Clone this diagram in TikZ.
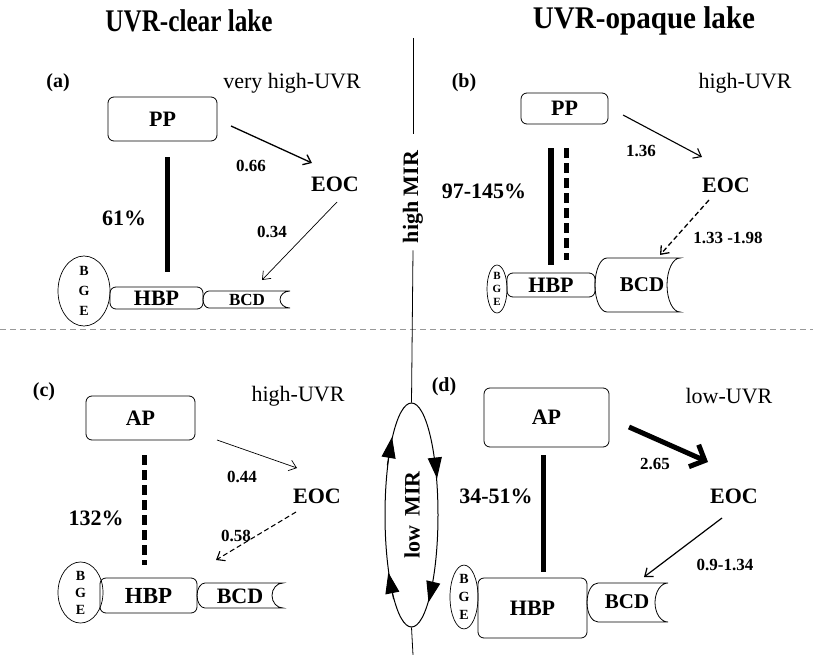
\documentclass[tikz,border=0pt]{standalone}
\usepackage{fontspec}
\setmainfont{Liberation Serif}
\usetikzlibrary{arrows.meta,shapes.geometric,calc}
\newcommand\fs[1]{\fontsize{#1}{#1}\selectfont}
\newcommand\bcdshape[6]{%
  \draw[bcdline] (#1,#3) -- (#2,#3)
    arc[start angle=270,end angle=90,x radius=#6,y radius={(#4-#3)/2}]
    -- (#1,#4)
    arc[start angle=90,end angle=270,x radius=#5,y radius={(#4-#3)/2}]
    -- cycle;}
\tikzset{
  box/.style={draw, rounded corners=6pt, line width=0.8pt, inner sep=0pt, font=\bfseries\fs{22}},
  bge/.style={draw, ellipse, line width=0.7pt, inner sep=0pt, align=center},
  bcdline/.style={line width=0.8pt},
  bcdtxt/.style={font=\bfseries\fs{21}, inner sep=0pt},
  eoc/.style={font=\bfseries\fs{22}, inner sep=0pt},
  num/.style={font=\bfseries\fs{17}, inner sep=0pt},
  pct/.style={font=\bfseries\fs{22}, inner sep=0pt},
  panel/.style={font=\bfseries\fs{20}, inner sep=0pt},
  uvr/.style={font=\fs{22}, inner sep=0pt},
  title/.style={font=\bfseries\fontsize{30}{30}\selectfont, inner sep=0pt},
  thickln/.style={line width=5pt},
  thickdash/.style={line width=5pt, dash pattern=on 10pt off 5pt},
  arr/.style={-{Straight Barb[length=7pt,width=11pt]}},
}
\begin{document}
\begin{tikzpicture}[x=1pt,y=-1pt]
\useasboundingbox (0,0) rectangle (813,655);
% titles
\node[title] (t1) at (189,21) {\scalebox{0.84}[1.05]{UVR-clear lake}};
\node[title] (t2) at (644,21) {\scalebox{0.97}[1.05]{UVR-opaque lake}};
% separators
\coordinate (vtop) at (413,38);
\coordinate (vbot) at (413,655);
\coordinate (hl) at (0,329);
\coordinate (hr) at (813,329);
\draw[gray!80, line width=0.8pt, dash pattern=on 6pt off 4pt] (hl) -- (hr);
\node[font=\bfseries\fs{22}, rotate=90, inner sep=0pt] (hmir) at (413,197) {high MIR};
\node[draw, ellipse, line width=1pt, inner sep=0pt, minimum width=53pt, minimum height=224pt] (mir) at (411.5,515) {};
\node[font=\bfseries\fs{22}, rotate=90, inner sep=0pt] (lmir) at (412,515) {low\hspace{9pt}MIR};
\draw[line width=0.8pt] (vtop) -- ([yshift=17pt]hmir.east);
\draw[line width=0.8pt] ([yshift=-7pt]hmir.west) -- (mir.north);
\draw[line width=0.8pt] (mir.south) -- (vbot);
\tikzset{mirarr/.style={line width=1pt,-{Triangle[length=21pt,width=14pt]}}}
\draw[mirarr] (mir.116) -- (mir.104.7);
\draw[mirarr] (mir.258) -- (mir.248.6);
\draw[mirarr] (mir.67) -- (mir.55.9);
\draw[mirarr] (mir.287) -- (mir.281.5);

% ---------------- panel (a)
\node[panel] (la) at (58,83) {(a)};
\node[uvr] (ua) at (292,83) {very high-UVR};
\node[box, minimum width=109pt, minimum height=44pt] (ppA) at (162.5,119) {PP};
\node[box, minimum width=93pt, minimum height=22pt] (hbpA) at (156.5,298) {HBP};
\node[bge, minimum width=52pt, minimum height=70pt, font=\bfseries\fs{14}] (bgeA) at (84,291) {B\\[6pt]G\\[6pt]E};
\bcdshape{209}{290}{291}{308}{6}{10}
\node[bcdtxt, font=\bfseries\fs{17}] (bcdA) at (247,300) {BCD};
\node[eoc] (eocA) at (335,184) {EOC};
\node[num] (n066) at (251,166) {0.66};
\node[num] (n034) at (272,232) {0.34};
\node[pct] (p61) at (124,218) {61\%};
\draw[thickln] ([xshift=4.5pt,yshift=-16pt]ppA.south) -- ([xshift=10.5pt,yshift=15pt]hbpA.north);
\coordinate (a1s) at (231,126); \coordinate (a1e) at (312,163);
\coordinate (a2s) at (337,202); \coordinate (a2e) at (262,280);
\draw[arr, line width=1.3pt] (a1s) -- (a1e);
\draw[arr, line width=0.7pt] (a2s) -- (a2e);

% ---------------- panel (b)
\node[panel] (lb) at (464,83) {(b)};
\node[uvr] (ub) at (745,83) {high-UVR};
\node[box, minimum width=87pt, minimum height=31pt] (ppB) at (564.5,108.5) {PP};
\node[box, minimum width=88pt, minimum height=24pt] (hbpB) at (551,285) {HBP};
\node[bge, minimum width=20pt, minimum height=48pt, font=\bfseries\fontsize{11}{13}\selectfont] (bgeB) at (497,289) {B\\G\\E};
\bcdshape{607}{680}{258}{312}{12}{13}
\node[bcdtxt] (bcdB) at (642,285) {BCD};
\node[eoc] (eocB) at (726,185) {EOC};
\node[num] (n136) at (641,151) {1.36};
\node[num] (n133) at (728,238) {1.33 -1.98};
\node[pct] (p97) at (484,191) {97-145\%};
\draw[thickln, line width=6pt] ([xshift=-13.5pt,yshift=-24pt]ppB.south) -- ([yshift=8pt]hbpB.north);
\draw[thickdash] ([xshift=1.5pt,yshift=-24pt]ppB.south) -- ([xshift=15pt,yshift=13pt]hbpB.north);
\coordinate (b1s) at (623,115); \coordinate (b1e) at (702,157);
\coordinate (b2s) at (709,200); \coordinate (b2e) at (660,255);
\draw[arr, line width=1.1pt] (b1s) -- (b1e);
\draw[arr, line width=1.3pt, dash pattern=on 5pt off 3pt] (b2s) -- (b2e);

% ---------------- panel (c)
\node[panel] (lc) at (44,392) {(c)};
\node[uvr] (uc) at (298,396) {high-UVR};
\node[box, minimum width=109pt, minimum height=44pt] (apC) at (140.5,418) {AP};
\node[box, minimum width=97pt, minimum height=35pt, font=\bfseries\fs{23}] (hbpC) at (148.5,595.5) {HBP};
\node[bge, minimum width=45pt, minimum height=59pt, font=\bfseries\fs{14}] (bgeC) at (80.5,592.5) {B\\[3pt]G\\[3pt]E};
\bcdshape{205}{283}{583}{608}{8}{11}
\node[bcdtxt, font=\bfseries\fs{22}] (bcdC) at (240,596) {BCD};
\node[eoc] (eocC) at (317,496) {EOC};
\node[num] (n044) at (242,477) {0.44};
\node[num] (n058) at (236,536) {0.58};
\node[pct] (p132) at (96,518) {132\%};
\draw[thickdash] ([xshift=3.5pt,yshift=-15pt]apC.south) -- ([xshift=-4.5pt,yshift=13pt]hbpC.north);
\coordinate (c1s) at (217,440); \coordinate (c1e) at (297,468);
\coordinate (c2s) at (296,512); \coordinate (c2e) at (216,560);
\draw[arr, line width=0.7pt] (c1s) -- (c1e);
\draw[arr, line width=1.1pt, dash pattern=on 5pt off 3pt] (c2s) -- (c2e);

% ---------------- panel (d)
\node[panel] (ld) at (444,387) {(d)};
\node[uvr] (ud) at (729,396) {low-UVR};
\node[box, minimum width=125pt, minimum height=59pt] (apD) at (546.5,417.5) {AP};
\node[box, minimum width=109pt, minimum height=60pt] (hbpD) at (532.5,608) {HBP};
\node[bge, minimum width=28pt, minimum height=60pt, font=\bfseries\fs{14}] (bgeD) at (464,597) {B\\[4pt]G\\[4pt]E};
\bcdshape{598}{668}{583}{622}{11}{13}
\node[bcdtxt] (bcdD) at (627,602) {BCD};
\node[eoc] (eocD) at (734,496) {EOC};
\node[num] (n265) at (655,464) {2.65};
\node[num] (n09) at (725,565) {0.9-1.34};
\node[pct] (p34) at (496,496) {34-51\%};
\draw[thickln] ([xshift=-3.5pt,yshift=-8pt]apD.south) -- ([xshift=10.5pt,yshift=6pt]hbpD.north);
\coordinate (d1s) at (629,427); \coordinate (d1e) at (708,462);
\coordinate (d2s) at (722,518); \coordinate (d2e) at (644,577);
\draw[-{Straight Barb[length=12pt,width=24pt]}, line width=5pt] (d1s) -- (d1e);
\draw[arr, line width=1.2pt] (d2s) -- (d2e);
\end{tikzpicture}
\end{document}
